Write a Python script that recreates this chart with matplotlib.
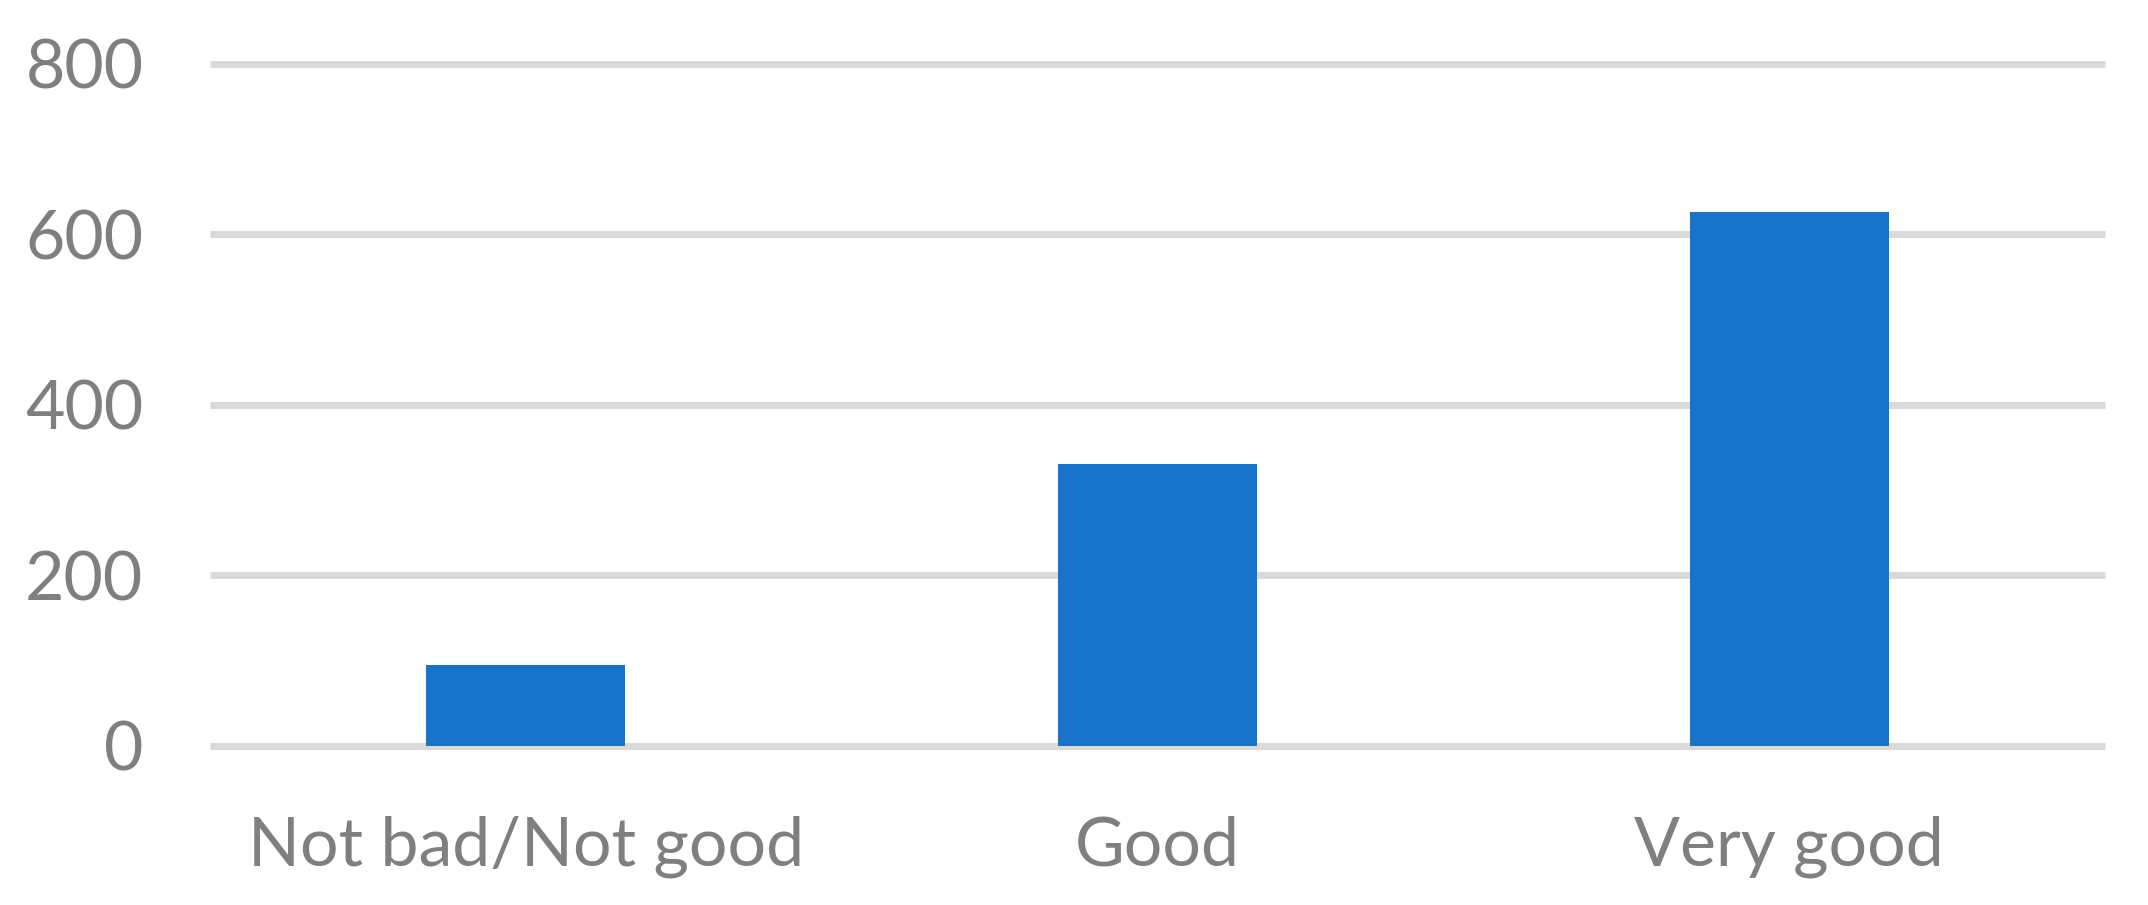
import matplotlib
matplotlib.use('Agg')
import matplotlib.pyplot as plt

# Dados
categories = ['Not bad/Not good', 'Good', 'Very good']
values = [95, 331, 626]
yticks = [0, 200, 400, 600, 800]

bar_color = '#1874CA'
grid_color = '#D9D9D9'
text_color = '#7F7F7F'

plt.rcParams['font.family'] = ['Lato', 'DejaVu Sans']

fig = plt.figure(figsize=(21.48, 9.05), dpi=100)
ax = fig.add_axes([0.0978, 0.1757, 0.8822, 0.7536])

x = range(len(categories))
ax.bar(x, values, width=0.315, color=bar_color, zorder=3)

ax.set_xlim(-0.5, len(categories) - 0.5)
ax.set_ylim(0, 800)
ax.set_yticks(yticks)
ax.set_xticks(list(x))
ax.set_xticklabels(categories)

# linhas de grade
for y in yticks:
    ax.axhline(y, color=grid_color, linewidth=5, zorder=1, clip_on=False,
               solid_capstyle='butt')

for s in ax.spines.values():
    s.set_visible(False)

ax.tick_params(axis='both', length=0, labelsize=49, colors=text_color)
ax.tick_params(axis='y', pad=48)
ax.tick_params(axis='x', pad=50)

fig.savefig('out.png', dpi=100)
